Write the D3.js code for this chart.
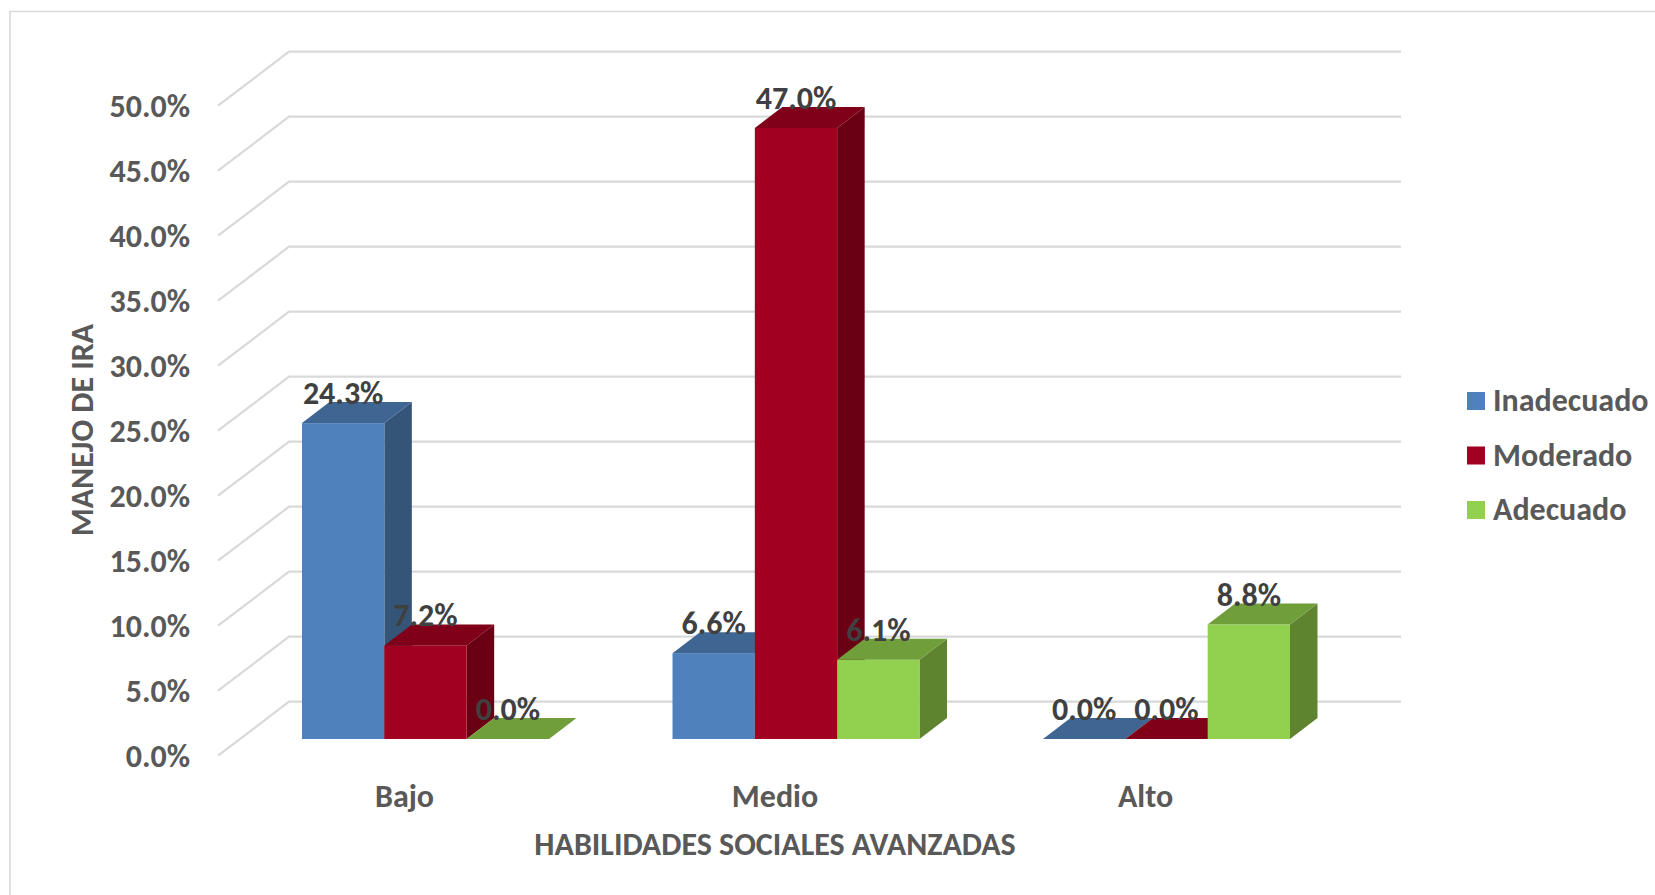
<!DOCTYPE html>
<html><head><meta charset="utf-8">
<script src="https://cdn.jsdelivr.net/npm/d3@7/dist/d3.min.js"></script>
<style>
html,body{margin:0;padding:0;background:#fff;overflow:hidden}
text{font-family:Carlito,Lato,"Open Sans",sans-serif;font-weight:700}
</style></head><body>
<svg id="c" width="1655" height="895"></svg>
<script>
const categories = ["Bajo","Medio","Alto"];
const seriesNames = ["Inadecuado","Moderado","Adecuado"];
const inadecuado = [24.3,6.6,0.0];
const moderado = [7.2,47.0,0.0];
const adecuado = [0.0,6.1,8.8];
const tickValues = [0,5,10,15,20,25,30,35,40,45,50];
const frontColors = ["#4f81bd","#a20020","#92d050"];
const topColors = ["#3f6592","#7f0018","#709e3a"];
const sideColors = ["#345578","#6a0014","#5f8430"];

const W=1655,H=895,FS="32px";
const svg=d3.select("#c");
const depthX=27.5, depthY=21;
const bottom=739, unit=13;
const y=d3.scaleLinear().domain([0,50]).range([bottom,bottom-50*unit]);
const x0=d3.scaleBand().domain(categories).range([302,1290]).paddingInner(1/3).paddingOuter(0);
const x1=d3.scaleBand().domain(seriesNames).range([0,x0.bandwidth()]);
const values=[inadecuado,moderado,adecuado];

// chart border
svg.append("path").attr("d",`M10,${H}V11.5H${W}`).attr("fill","none").attr("stroke","#d9d9d9").attr("stroke-width",1.6);

// gridlines: front-left stub + back wall line
const frontDY=16.7, backDY=-37.3;
const gridG=svg.append("g");
tickValues.forEach(t=>{
  gridG.append("path")
    .attr("d",`M218,${y(t)+frontDY}L289,${y(t)+backDY}H1401`)
    .attr("fill","none").attr("stroke","#d9d9d9").attr("stroke-width",2.2);
});

// y axis labels
const yAxis=d3.axisLeft(y).tickValues(tickValues).tickSize(0).tickPadding(0).tickFormat(d=>d3.format(".1f")(d)+"%");
const gy=svg.append("g").attr("transform",`translate(190,${frontDY-0.5})`).call(yAxis);
gy.select(".domain").remove();
gy.selectAll("text").attr("fill","#595959").style("font-size",FS).style("font-family",null).attr("dy","0.34em");

// bars
seriesNames.forEach((s,si)=>{
  categories.forEach((c,ci)=>{
    const v=values[si][ci];
    const l=x0(c)+x1(s), r=l+x1.bandwidth(), t=y(v), b=y(0);
    const g=svg.append("g");
    if(v>0){
      g.append("path").attr("d",`M${r},${t}L${r+depthX},${t-depthY}V${b-depthY}L${r},${b}Z`).attr("fill",sideColors[si]);
      g.append("rect").attr("x",l).attr("y",t).attr("width",r-l).attr("height",b-t).attr("fill",frontColors[si]);
    }
    g.append("path").attr("d",`M${l},${t}L${l+depthX},${t-depthY}H${r+depthX}L${r},${t}Z`).attr("fill",topColors[si]);
  });
});

// data labels
seriesNames.forEach((s,si)=>{
  categories.forEach((c,ci)=>{
    const v=values[si][ci];
    svg.append("text").attr("x",x0(c)+x1(s)+x1.bandwidth()/2).attr("y",y(v)-19)
      .attr("text-anchor","middle").attr("fill","#404040").style("font-size",FS)
      .text(d3.format(".1f")(v)+"%");
  });
});

// category axis
const xAxis=d3.axisBottom(x0).tickSize(0).tickPadding(0);
const gx=svg.append("g").attr("transform",`translate(-21,0)`).call(xAxis);
gx.select(".domain").remove();
gx.selectAll("g.tick").attr("transform",d=>`translate(${x0(d)+x0.bandwidth()/2},807)`);
gx.selectAll("text").attr("y",0).attr("dy",0).attr("fill","#595959").style("font-size",FS).style("font-family",null);

// axis titles
svg.append("text").attr("x",775).attr("y",855).attr("text-anchor","middle").attr("fill","#595959").style("font-size",FS).text("HABILIDADES SOCIALES AVANZADAS");
svg.append("text").attr("transform","translate(93,430) rotate(-90)").attr("text-anchor","middle").attr("fill","#595959").style("font-size",FS).text("MANEJO DE IRA");

// legend
const legendY=d3.scalePoint().domain(seriesNames).range([401,510]);
seriesNames.forEach((s,i)=>{
  svg.append("rect").attr("x",1467).attr("y",legendY(s)-9).attr("width",18).attr("height",18).attr("fill",frontColors[i]);
  svg.append("text").attr("x",1493).attr("y",legendY(s)+10).attr("fill","#595959").style("font-size",FS).text(s);
});
</script></body></html>
